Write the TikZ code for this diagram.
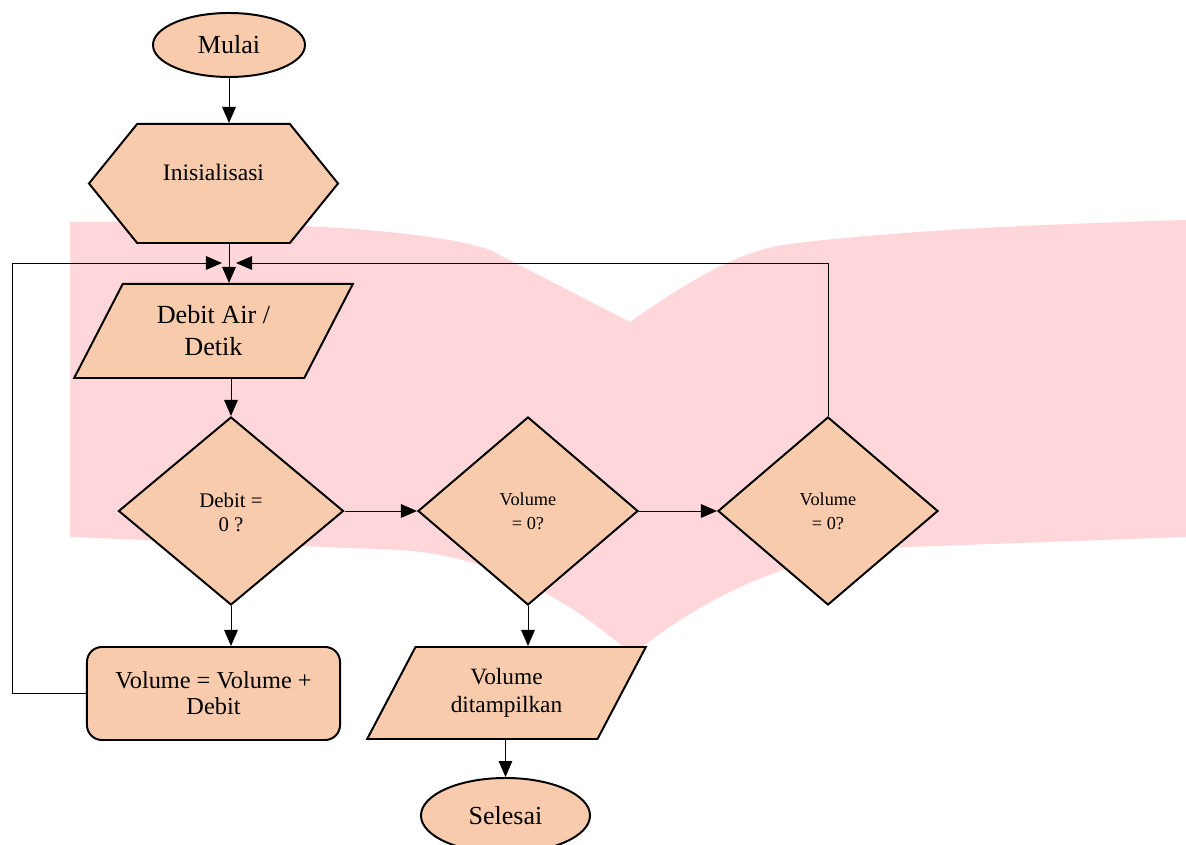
\documentclass[tikz,border=0pt]{standalone}
\usepackage{fontspec}
\setmainfont{Liberation Serif}
\usetikzlibrary{arrows.meta,shapes.geometric,shapes.symbols}
\definecolor{NodePeach}{HTML}{F8CBAD}
\definecolor{MarkPink}{HTML}{FFD7DB}

\begin{document}
\begin{tikzpicture}[x=0.025cm, y=-0.025cm,
  term/.style={ellipse, draw, line width=1.4pt, fill=NodePeach, inner sep=0pt, font=\fontsize{18.5}{22}\selectfont},
  prep/.style={signal, signal to=west and east, signal pointer angle=102, draw, line width=1.4pt, fill=NodePeach, inner sep=0pt, minimum width=6.225cm, minimum height=2.975cm, font=\fontsize{16.8}{19}\selectfont},
  io/.style={trapezium, trapezium left angle=59, trapezium right angle=121, trapezium stretches=true, draw, line width=1.4pt, fill=NodePeach, inner sep=0pt, align=center, minimum width=6.975cm},
  decide/.style={diamond, draw, line width=1.4pt, fill=NodePeach, inner sep=0pt, minimum height=4.7cm, align=center},
  proc/.style={draw, rounded corners=0.375cm, line width=1.4pt, fill=NodePeach, minimum width=6.325cm, minimum height=2.325cm, align=center, font=\fontsize{17.3}{18.5}\selectfont},
  arr/.style={-{Triangle[length=4mm,width=3.4mm]}, line width=0.7pt}
]
\useasboundingbox (0,0) rectangle (1186,845);
% watermark behind the chart
\fill[MarkPink] (70,222) .. controls (300,220) and (440,232) .. (490,250)
  -- (630,322) .. controls (690,280) and (740,250) .. (790,244)
  .. controls (900,230) and (1050,224) .. (1186,220) -- (1186,537)
  -- (880,548) .. controls (780,560) and (700,600) .. (632,655)
  .. controls (560,590) and (480,555) .. (400,550) -- (70,537) -- cycle;

\node[term, minimum width=3.8cm, minimum height=1.6cm] (mulai) at (229,45) {Mulai};
\node[prep] (ini) at (213.5,183.5) {\raisebox{0.27cm}[\height][\depth]{Inisialisasi}};
\node[io, minimum height=2.35cm, font=\fontsize{18.6}{22.8}\selectfont] (debit) at (213.5,331) {Debit Air /\\Detik};
\node[decide, minimum width=5.625cm, font=\fontsize{14.8}{19}\selectfont] (cek1) at (231,511) {\raisebox{-0.08cm}[\height][\depth]{Debit =}\\0 ?};
\node[decide, minimum width=5.5cm, font=\fontsize{13}{17}\selectfont] (cek2) at (528,511) {Volume\\= 0?};
\node[decide, minimum width=5.5cm, font=\fontsize{13}{17}\selectfont] (cek3) at (828,511) {Volume\\= 0?};
\node[proc] (tambah) at (213.5,693.5) {Volume = Volume +\\Debit};
\node[io, minimum height=2.3cm, font=\fontsize{16.6}{20}\selectfont] (tampil) at (506.5,693) {Volume\\ditampilkan};
\node[term, minimum width=4.225cm, minimum height=1.875cm] (selesai) at (505.5,815.5) {Selesai};

\coordinate (kiri) at (12,263);
\coordinate (masukL) at (222,263);
\coordinate (masukR) at (236,263);

\draw[arr] (mulai.south) -- (mulai.south |- ini.north);
\draw[arr] (ini.south -| mulai) -- (debit.north -| mulai);
\draw[arr] (debit.south -| cek1) -- (cek1.north);
\draw[arr] (cek1.east) -- (cek2.west);
\draw[arr] (cek2.east) -- (cek3.west);
\draw[arr] (cek1.south) -- (cek1.south |- tambah.north);
\draw[arr] (cek2.south) -- (cek2.south |- tampil.north);
\draw[arr] (tampil.south -| selesai) -- (selesai.north);
\draw[arr] (tambah.west) -| (kiri) -- (masukL);
\draw[arr] (cek3.north) |- (masukR);
\end{tikzpicture}
\end{document}
